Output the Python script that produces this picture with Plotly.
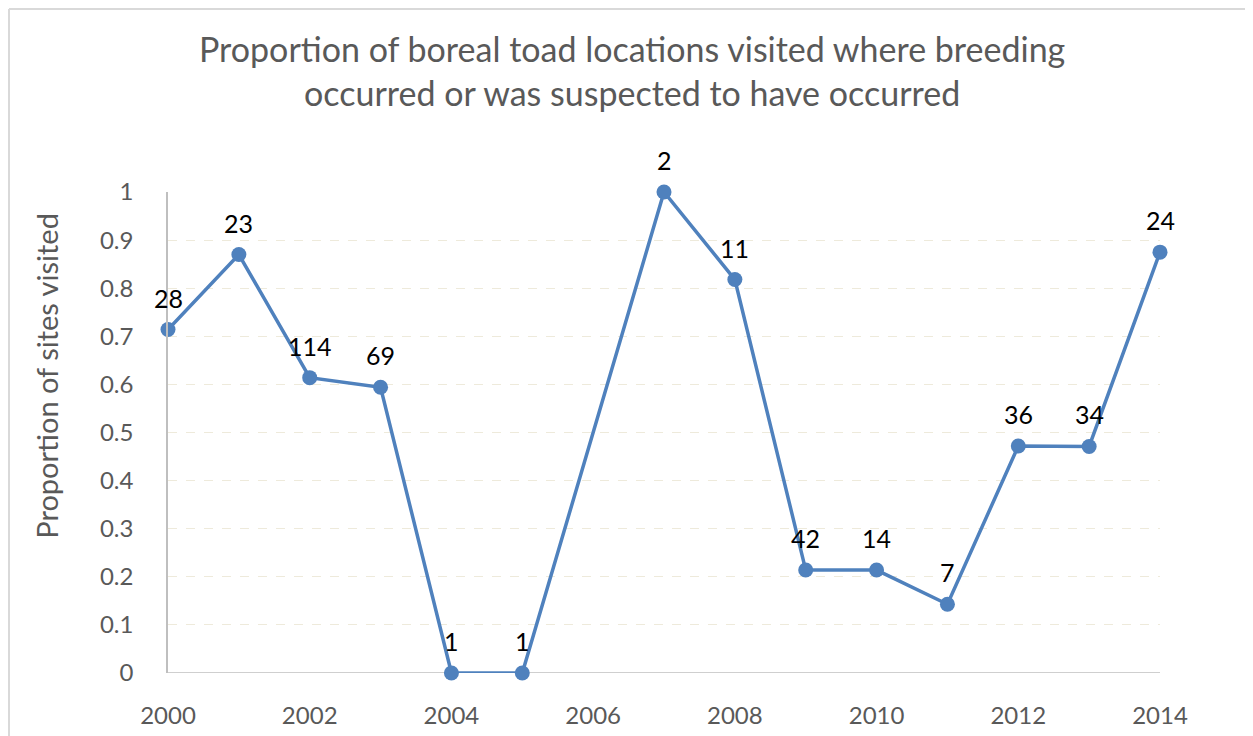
import plotly.graph_objects as go

years = [2000, 2001, 2002, 2003, 2004, 2005, 2007, 2008, 2009, 2010, 2011, 2012, 2013, 2014]
proportions = [0.714, 0.870, 0.614, 0.594, 0.0, 0.0, 1.0, 0.818, 0.214, 0.214, 0.143, 0.472, 0.471, 0.875]
sites_visited = ["28", "23", "114", "69", "1", "1", "2", "11", "42", "14", "7", "36", "34", "24"]
x_ticks = [2000, 2002, 2004, 2006, 2008, 2010, 2012, 2014]

FONT = "Lato, 'Open Sans', sans-serif"
GRAY = "#595959"

fig = go.Figure()
fig.add_trace(go.Scatter(
    x=years, y=proportions, mode="lines+markers",
    line=dict(color="#4F81BD", width=3.5),
    marker=dict(color="#4F81BD", size=15),
    cliponaxis=False, showlegend=False, hoverinfo="x+y",
))

label_annotations = [
    dict(x=yr, y=val, text=lbl, xref="x", yref="y", showarrow=False,
         yshift=32, xanchor="center", yanchor="middle",
         font=dict(family=FONT, size=25, color="#000000"))
    for yr, val, lbl in zip(years, proportions, sites_visited)
]

fig.update_layout(
    width=1253, height=736,
    margin=dict(l=160, r=101, t=184, b=71),
    paper_bgcolor="white", plot_bgcolor="white",
    xaxis=dict(
        range=[2000, 2014], tickvals=x_ticks, showgrid=False,
        showline=False, zeroline=False, ticks="", ticklabelstandoff=26,
        tickfont=dict(family=FONT, size=24, color=GRAY),
    ),
    yaxis=dict(
        range=[0, 1], dtick=0.1, tick0=0,
        showgrid=True, gridcolor="#EEEADB", griddash="dash", gridwidth=1,
        showline=True, linecolor="#BFBFBF", linewidth=1.5,
        zeroline=False, ticks="", ticklabelstandoff=28,
        tickfont=dict(family=FONT, size=24, color=GRAY),
    ),
    annotations=[
        dict(text="Proportion of boreal toad locations visited where breeding<br>occurred or was suspected to have occurred",
             xref="paper", yref="paper", x=0.468, y=1.253, xanchor="center", yanchor="middle",
             showarrow=False, font=dict(family=FONT, size=34, color=GRAY)),
        dict(text="Proportion of sites visited", textangle=-90,
             xref="paper", yref="paper", x=-0.122, y=0.618, xanchor="center", yanchor="middle",
             showarrow=False, font=dict(family=FONT, size=29, color=GRAY)),
    ] + label_annotations,
    shapes=[
        dict(type="line", xref="x", yref="y", x0=2000, x1=2014, y0=0, y1=0,
             line=dict(color="#BFBFBF", width=1.5), layer="below"),
        dict(type="line", xref="paper", yref="paper", x0=-0.1603, x1=-0.1603, y0=-0.2, y1=1.3805,
             line=dict(color="#D9D9D9", width=2), layer="above"),
        dict(type="line", xref="paper", yref="paper", x0=-0.1603, x1=1.2, y0=1.3805, y1=1.3805,
             line=dict(color="#D9D9D9", width=2), layer="above"),
    ],
)

fig.write_html("out.html")
